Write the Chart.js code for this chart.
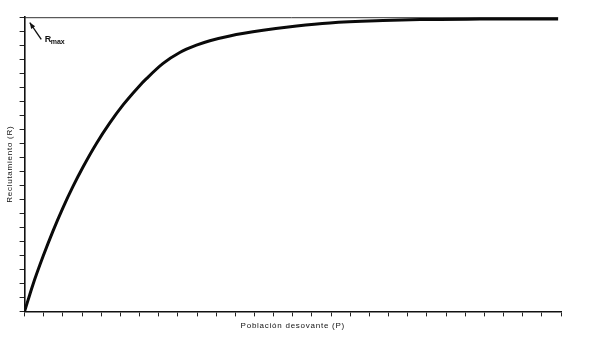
<!DOCTYPE html>
<html>
<head>
<meta charset="utf-8">
<script src="https://cdn.jsdelivr.net/npm/chart.js@4/dist/chart.umd.min.js"></script>
<style>
  html, body { margin: 0; padding: 0; background: #ffffff; }
  #wrap { width: 600px; height: 340px; position: relative; }
</style>
</head>
<body>
<div id="wrap"><canvas id="c" width="600" height="340"></canvas></div>
<script>
// Spawning stock (P) in axis tick units, and recruitment (R)
const spawningStock = [0, 0.43, 0.96, 1.48, 2.00, 2.52, 3.05, 3.75, 4.44, 5.14, 5.97, 6.36, 7.23, 8.10, 8.97, 9.67, 10.71, 12.45, 14.20, 15.93, 18.70, 20.64, 23.77, 27.85];
const recruitment   = [0, 1.89, 3.91, 5.73, 7.39, 8.90, 10.30, 11.98, 13.43, 14.73, 16.05, 16.60, 17.69, 18.47, 18.99, 19.31, 19.65, 20.05, 20.36, 20.58, 20.75, 20.82, 20.85, 20.86];
const rMaxLevel = [20.95, 20.95];
const rMaxExtent = [0, 27.85];
const xAxisTitle = "Población desovante (P)";
const yAxisTitle = "Reclutamiento (R)";
const annotationLabel = "R";
const annotationSub = "max";
// annotation anchors in data units
const arrowTip = { x: 0.27, y: 20.6 };
const arrowTail = { x: 0.87, y: 19.4 };
const labelAt = { x: 1.05, y: 19.39 };
const subAt = { x: 1.36, y: 19.18 };

const curveData = spawningStock.map((p, i) => ({ x: p, y: recruitment[i] }));
const rMaxData = rMaxExtent.map((p, i) => ({ x: p, y: rMaxLevel[i] }));

const spacingPlugin = {
  id: 'titleSpacing',
  beforeDraw(chart) { chart.ctx.letterSpacing = '0.75px'; },
  afterDraw(chart) { chart.ctx.letterSpacing = '0px'; }
};

const annotationPlugin = {
  id: 'rmaxNote',
  afterDatasetsDraw(chart) {
    const { ctx, scales: { x, y } } = chart;
    const tx = x.getPixelForValue(arrowTip.x), ty = y.getPixelForValue(arrowTip.y);
    const sx = x.getPixelForValue(arrowTail.x), sy = y.getPixelForValue(arrowTail.y);
    ctx.save();
    ctx.letterSpacing = '0px';
    ctx.strokeStyle = '#111';
    ctx.fillStyle = '#111';
    ctx.lineWidth = 1.3;
    ctx.beginPath();
    ctx.moveTo(sx, sy);
    ctx.lineTo(tx, ty);
    ctx.stroke();
    const ang = Math.atan2(ty - sy, tx - sx);
    const len = 6, w = 2.4;
    ctx.beginPath();
    ctx.moveTo(tx, ty);
    ctx.lineTo(tx - len * Math.cos(ang) + w * Math.sin(ang), ty - len * Math.sin(ang) - w * Math.cos(ang));
    ctx.lineTo(tx - len * Math.cos(ang) - w * Math.sin(ang), ty - len * Math.sin(ang) + w * Math.cos(ang));
    ctx.closePath();
    ctx.fill();
    ctx.textBaseline = 'middle';
    ctx.textAlign = 'left';
    ctx.font = 'bold 9px "Liberation Sans", Arial, sans-serif';
    ctx.fillText(annotationLabel, x.getPixelForValue(labelAt.x), y.getPixelForValue(labelAt.y));
    ctx.font = 'bold 7px "Liberation Sans", Arial, sans-serif';
    ctx.fillText(annotationSub, x.getPixelForValue(subAt.x), y.getPixelForValue(subAt.y));
    ctx.restore();
  }
};

new Chart(document.getElementById('c'), {
  type: 'line',
  data: {
    datasets: [
      {
        data: curveData,
        borderColor: '#0a0a0a',
        borderWidth: 3,
        pointRadius: 0,
        cubicInterpolationMode: 'monotone',
        fill: false
      },
      {
        data: rMaxData,
        borderColor: '#333',
        borderWidth: 1,
        pointRadius: 0,
        fill: false
      }
    ]
  },
  options: {
    responsive: false,
    animation: false,
    layout: { padding: { left: 5, right: 39, top: 17, bottom: 9 } },
    plugins: { legend: { display: false }, tooltip: { enabled: false } },
    scales: {
      x: {
        type: 'linear',
        min: 0, max: 28,
        ticks: { display: false, stepSize: 1 },
        grid: { drawOnChartArea: false, drawTicks: true, tickLength: 5, color: '#222', lineWidth: 1 },
        border: { display: true, color: '#111', width: 1.6 },
        title: {
          display: true, text: xAxisTitle, color: '#111',
          font: { family: '"Liberation Sans", Arial, sans-serif', size: 8 },
          padding: { top: 5, bottom: 0 }
        }
      },
      y: {
        min: 0, max: 21,
        ticks: { display: false, stepSize: 1 },
        grid: { drawOnChartArea: false, drawTicks: true, tickLength: 5, color: '#222', lineWidth: 1 },
        border: { display: true, color: '#111', width: 1.6 },
        title: {
          display: true, text: yAxisTitle, color: '#111',
          font: { family: '"Liberation Sans", Arial, sans-serif', size: 8 },
          padding: { top: 0, bottom: 5 }
        }
      }
    }
  },
  plugins: [spacingPlugin, annotationPlugin]
});
</script>
</body>
</html>
